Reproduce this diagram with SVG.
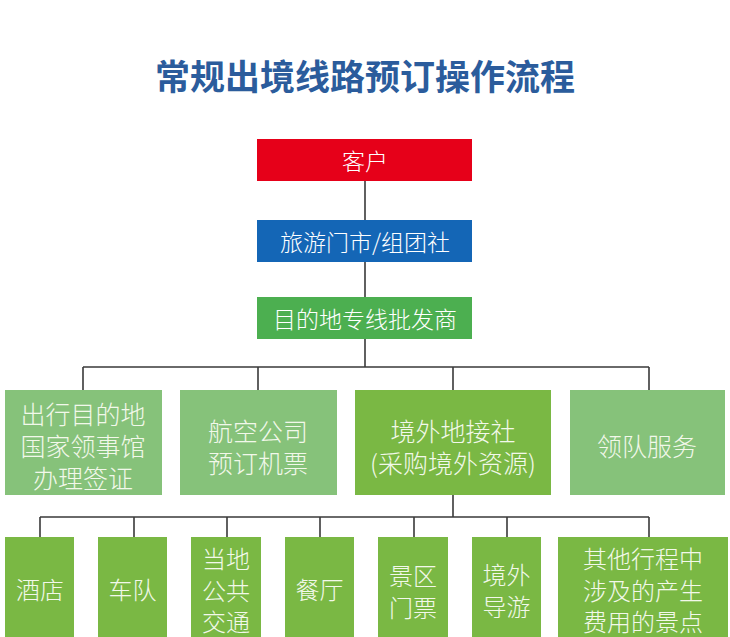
<svg xmlns="http://www.w3.org/2000/svg" width="730" height="637" viewBox="0 0 730 637">
<style>
.t{font-family:"Noto Sans CJK SC","Liberation Sans",sans-serif;text-anchor:middle;dominant-baseline:central;fill:#f2f8ea;font-weight:300}
.l2{font-size:25px}
.l3{font-size:24px}
.lc{fill:#86c27a}
.dk{fill:#7ab844}
.ln{stroke:#3a3a3a;stroke-width:1.6;fill:none}
</style>
<rect width="730" height="637" fill="#ffffff"/>
<text x="365" y="74" font-family="'Noto Sans CJK SC',sans-serif" font-size="35" font-weight="bold" fill="#2b5c9c" text-anchor="middle" dominant-baseline="central">常规出境线路预订操作流程</text>
<g id="connectors">
<path class="ln" d="M365 181V220M365 262V297M365 339V367M83 367H649M83 367V390M258 367V390M453 367V390M649 367V390M453 495V517M40 517H649M40 517V537M134 517V537M227 517V537M320 517V537M414 517V537M507 517V537M649 517V537"/>
</g>
<g id="n-kehu"><rect x="257" y="139" width="215" height="42" fill="#e60019"/><text class="t" x="365" y="160" font-size="23" style="fill:#fff">客户</text></g>
<g id="n-mendian"><rect x="257" y="220" width="215" height="42" fill="#1466b6"/><text class="t" x="365" y="241" font-size="23" style="fill:#fff">旅游门市/组团社</text></g>
<g id="n-pifa"><rect x="257" y="297" width="215" height="42" fill="#4caf50"/><text class="t" x="365" y="318" font-size="23" style="fill:#fff">目的地专线批发商</text></g>
<g id="n-qianzheng"><rect class="lc" x="5" y="390" width="157" height="105"/><text class="t l2" x="83" y="413">出行目的地</text><text class="t l2" x="83" y="445">国家领事馆</text><text class="t l2" x="83" y="477">办理签证</text></g>
<g id="n-jipiao"><rect class="lc" x="180" y="390" width="157" height="105"/><text class="t l2" x="258" y="430">航空公司</text><text class="t l2" x="258" y="462">预订机票</text></g>
<g id="n-dijie"><rect class="dk" x="355" y="390" width="196" height="105"/><text class="t l2" x="453" y="430">境外地接社</text><text class="t l2" x="453" y="462">(采购境外资源)</text></g>
<g id="n-lingdui"><rect class="lc" x="570" y="390" width="155" height="105"/><text class="t l2" x="647" y="445">领队服务</text></g>
<g id="n-jiudian"><rect class="dk" x="5" y="537" width="69" height="100"/><text class="t l3" x="40" y="588">酒店</text></g>
<g id="n-chedui"><rect class="dk" x="98" y="537" width="69" height="100"/><text class="t l3" x="132.5" y="588">车队</text></g>
<g id="n-jiaotong"><rect class="dk" x="191" y="537" width="70" height="100"/><text class="t l3" x="226" y="557">当地</text><text class="t l3" x="226" y="589">公共</text><text class="t l3" x="226" y="620">交通</text></g>
<g id="n-canting"><rect class="dk" x="285" y="537" width="69" height="100"/><text class="t l3" x="319.5" y="588">餐厅</text></g>
<g id="n-menpiao"><rect class="dk" x="378" y="537" width="70" height="100"/><text class="t l3" x="413" y="574">景区</text><text class="t l3" x="413" y="606">门票</text></g>
<g id="n-daoyou"><rect class="dk" x="472" y="537" width="69" height="100"/><text class="t l3" x="506.5" y="573">境外</text><text class="t l3" x="506.5" y="605">导游</text></g>
<g id="n-qita"><rect class="dk" x="558" y="537" width="170" height="100"/><text class="t l3" x="643" y="557">其他行程中</text><text class="t l3" x="643" y="589">涉及的产生</text><text class="t l3" x="643" y="620">费用的景点</text></g>
</svg>
